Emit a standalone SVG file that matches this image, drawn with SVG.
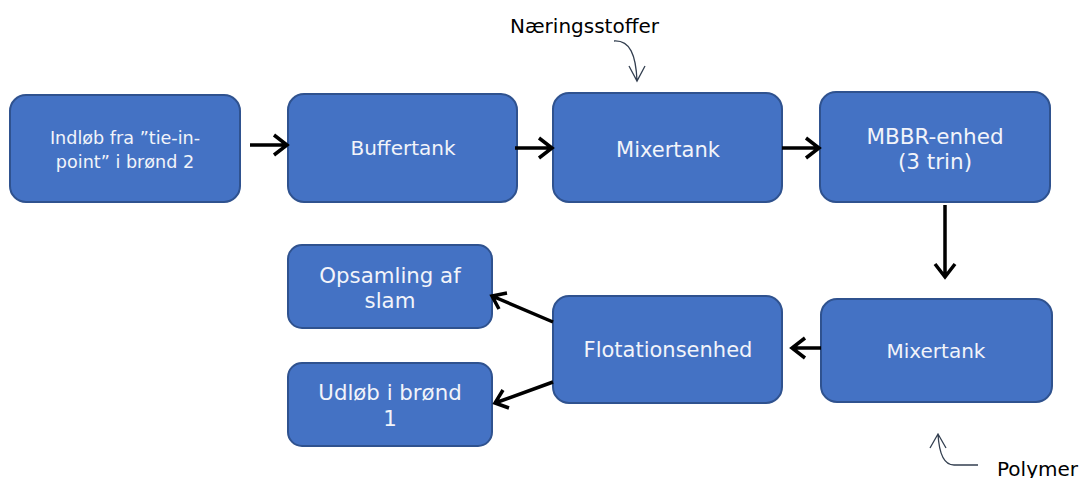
<svg xmlns="http://www.w3.org/2000/svg" width="1080" height="478" viewBox="0 0 1080 478">
<style>
.box{fill:#4472C4;stroke:#2F528F;stroke-width:2}
.t{font-family:"DejaVu Sans",Verdana,sans-serif;fill:#F2F4FA;text-anchor:middle}
.lbl{font-family:"DejaVu Sans",Verdana,sans-serif;fill:#000;font-size:20px}
.arr{stroke:#000;stroke-width:3.5;fill:none}
.thin{stroke:#333F50;stroke-width:1.3;fill:none}
</style>
<rect width="1080" height="478" fill="#fff"/>
<g id="n1"><rect class="box" x="10" y="95" width="230" height="107" rx="16"/><text class="t" font-size="17.6"><tspan x="125" y="144">Indløb fra ”tie-in-</tspan><tspan x="125" y="168">point” i brønd 2</tspan></text></g>
<g id="n2"><rect class="box" x="288" y="94" width="229" height="108" rx="16"/><text class="t" x="403" y="155" font-size="20">Buffertank</text></g>
<g id="n3"><rect class="box" x="553" y="93" width="229" height="109" rx="16"/><text class="t" x="668" y="157" font-size="21">Mixertank</text></g>
<g id="n4"><rect class="box" x="820" y="92" width="230" height="110" rx="16"/><text class="t" font-size="21.5"><tspan x="935" y="144">MBBR-enhed</tspan><tspan x="935" y="169">(3 trin)</tspan></text></g>
<g id="n5"><rect class="box" x="821" y="299" width="231" height="103" rx="16"/><text class="t" x="936" y="358" font-size="20">Mixertank</text></g>
<g id="n6"><rect class="box" x="553" y="296" width="229" height="107" rx="16"/><text class="t" x="668" y="357" font-size="21">Flotationsenhed</text></g>
<g id="n7"><rect class="box" x="288" y="245" width="204" height="83" rx="14"/><text class="t" font-size="21.3"><tspan x="390" y="283">Opsamling af</tspan><tspan x="390" y="308">slam</tspan></text></g>
<g id="n8"><rect class="box" x="288" y="363" width="204" height="83" rx="14"/><text class="t" font-size="21.3"><tspan x="390" y="400">Udløb i brønd</tspan><tspan x="390" y="426">1</tspan></text></g>
<g id="labels">
<text class="lbl" x="510" y="33">Næringsstoffer</text>
<text class="lbl" x="997" y="476" font-size="19">Polymer</text>
</g>
<g id="connectors">
<path class="arr" d="M250 145H287M274 135L287 145L274 155"/>
<path class="arr" d="M515 148H552M539 138L552 148L539 158"/>
<path class="arr" d="M782 148H819M806 138L819 148L806 158"/>
<path class="arr" d="M945 205V277M935 264L945 277L955 264"/>
<path class="arr" d="M821 348H792M805 338L792 348L805 358"/>
<path class="arr" d="M553 322L492 296M499 309L492 296L507 293"/>
<path class="arr" d="M553 382L495 403M503 390L495 403L509 408"/>
<path class="thin" d="M614 41C630 40 636 55 637 81M629 66L637 81L645 66"/>
<path class="thin" d="M978 465H954C944 465 939 452 938 434M930 448L938 434L946 448"/>
</g>
</svg>
